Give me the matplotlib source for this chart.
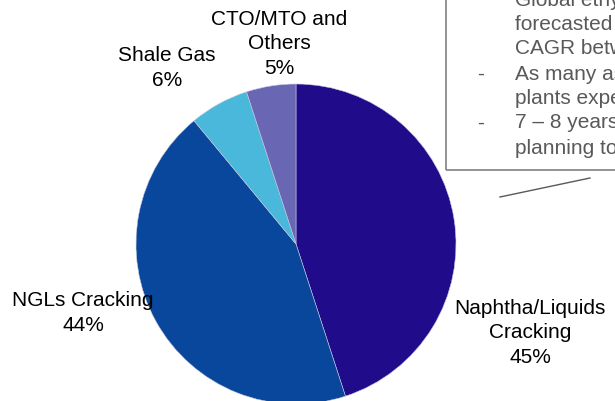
import numpy as np
import matplotlib
matplotlib.use('Agg')
import matplotlib.pyplot as plt
from matplotlib.patches import Rectangle
from matplotlib.lines import Line2D

plt.rcParams['font.family'] = ['Liberation Sans', 'DejaVu Sans']

# data
labels = ['Naphtha/Liquids\nCracking', 'NGLs Cracking', 'Shale Gas', 'CTO/MTO and\nOthers']
shares = [45, 44, 6, 5]
colors = ['#200C8A', '#08479B', '#4AB8DA', '#6966B3']

box_lines = [
    ('', 'Global ethylene demand is'),
    ('', 'forecasted to grow at ~4%'),
    ('', 'CAGR between 2015 - 2020'),
    ('-', 'As many as 40 new cracker'),
    ('', 'plants expected by 2020'),
    ('-', '7 \u2013 8 years required from'),
    ('', 'planning to commissioning'),
]

W, H = 615, 401
cx, cy, r = 296, 244, 160  # pie centre / radius in pixels

fig = plt.figure(figsize=(W / 100, H / 100), dpi=100)
ax = fig.add_axes([0, 0, 1, 1])
ax.set_xlim(-cx / r, (W - cx) / r)
ax.set_ylim(-(H - cy) / r, cy / r)
ax.set_aspect('equal')
ax.axis('off')

wedges, _ = ax.pie(shares, colors=colors, startangle=90, counterclock=False,
                   radius=1, center=(0, 0), frame=True,
                   wedgeprops=dict(linewidth=0.4, edgecolor='#c8c8e0'))
ax.axis('off')

# label positions (pixels)
label_px = [(530, 333), (83, 313), (167, 68), (279, 44)]
for lab, val, (px, py) in zip(labels, shares, label_px):
    ax.text((px - cx) / r, (cy - py) / r, '%s\n%d%%' % (lab, val),
            ha='center', va='center', fontsize=15, linespacing=1.35,
            color='black')

# text box at top right (cut by the figure edge)
fig.patches.append(Rectangle((446 / W, 1 - 170 / H), 1, 1, transform=fig.transFigure,
                             fill=False, edgecolor='#808080', linewidth=1.2))
ys = [0, 25, 48, 74, 98, 123, 148]
for (dash, txt), y in zip(box_lines, ys):
    if dash:
        fig.text(481 / W, 1 - y / H, dash, ha='center', va='center',
                 fontsize=15, color='#595959')
    fig.text(515 / W, 1 - y / H, txt, ha='left', va='center',
             fontsize=15, color='#595959')

# callout line
fig.lines.append(Line2D([500 / W, 590 / W], [1 - 197 / H, 1 - 178 / H],
                        transform=fig.transFigure, color='#595959', linewidth=1))

fig.savefig('out.png', dpi=100)
